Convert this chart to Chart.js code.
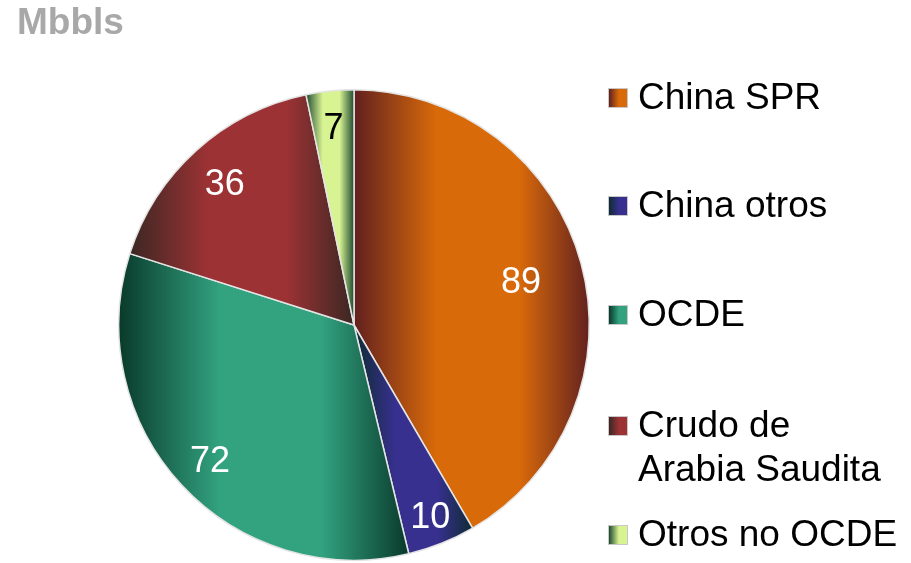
<!DOCTYPE html>
<html>
<head>
<meta charset="utf-8">
<script src="https://cdn.jsdelivr.net/npm/chart.js@4.4.1/dist/chart.umd.min.js"></script>
<style>
  body { margin: 0; background: #fff; }
  #wrap { position: relative; width: 911px; height: 563px; overflow: hidden; }
  #myChart { position: absolute; left: 0; top: 0; }
  .title { position: absolute; left: 17px; top: 3px; font: bold 37px/37px "Liberation Sans", Arial, sans-serif; color: #a8a8a8; }
  .leg-box { position: absolute; left: 608px; width: 20px; height: 20px; border: 1px solid #c8c8c8; box-sizing: border-box; }
  .leg-text { position: absolute; left: 638px; font: 37px/44px "Liberation Sans", Arial, sans-serif; color: #000; white-space: nowrap; }
</style>
</head>
<body>
<div id="wrap">
  <canvas id="myChart" width="911" height="563"></canvas>
  <div class="title" id="title"></div>
</div>
<script>
var unitLabel = 'Mbbls';
var labels = ['China SPR', 'China otros', 'OCDE', ['Crudo de', 'Arabia Saudita'], 'Otros no OCDE'];
var values = [89, 10, 72, 36, 7];

// gradient colours: dark edge / bright middle
var darkColors = ['#61201f', '#0f2b32', '#09392a', '#3a2723', '#1d4a30'];
var brightColors = ['#d96a0a', '#37308f', '#32a27f', '#9c3234', '#d8f392'];
var valueColors = ['#ffffff', '#ffffff', '#ffffff', '#ffffff', '#000000'];
var labelRadius = [0.735, 0.87, 0.835, 0.82, 0.85];
var legendBaselines = [110, 218, 327, 438, 547];

document.getElementById('title').textContent = unitLabel;

var ctx = document.getElementById('myChart').getContext('2d');

function sliceGradient (context) {
    var i = context.dataIndex;
    var area = context.chart.chartArea;
    if (!area || i === undefined) return brightColors[i] || '#888';
    var data = context.dataset.data;
    var total = data.reduce(function (a, b) { return a + b; }, 0);
    var before = 0;
    for (var k = 0; k < i; k++) before += data[k];
    var cx = (area.left + area.right) / 2;
    var r = Math.min(area.width, area.height) / 2;
    var a0 = -Math.PI / 2 + before / total * 2 * Math.PI;
    var a1 = a0 + data[i] / total * 2 * Math.PI;
    var xs = [cx, cx + r * Math.cos(a0), cx + r * Math.cos(a1)];
    [0, Math.PI].forEach(function (t) {
        if (t >= a0 && t <= a1) xs.push(cx + r * Math.cos(t));
    });
    var x0 = Math.min.apply(null, xs), x1 = Math.max.apply(null, xs);
    var g = context.chart.ctx.createLinearGradient(x0, 0, x1, 0);
    g.addColorStop(0, darkColors[i]);
    g.addColorStop(0.35, brightColors[i]);
    g.addColorStop(0.7, brightColors[i]);
    g.addColorStop(1, darkColors[i]);
    return g;
}

// values written inside the slices
var sliceValues = {
    id: 'sliceValues',
    afterDatasetsDraw: function (chart) {
        var c = chart.ctx;
        var arcs = chart.getDatasetMeta(0).data;
        c.save();
        c.font = '36px "Liberation Sans", Arial, sans-serif';
        c.textAlign = 'center';
        c.textBaseline = 'alphabetic';
        arcs.forEach(function (arc, i) {
            var mid = (arc.startAngle + arc.endAngle) / 2;
            var rr = arc.outerRadius * labelRadius[i];
            var x = arc.x + rr * Math.cos(mid);
            var y = arc.y + rr * Math.sin(mid);
            c.fillStyle = valueColors[i];
            c.fillText(String(values[i]), x, y + 13);
        });
        c.restore();
    }
};

var chart = new Chart(ctx, {
    type: 'pie',
    data: {
        labels: labels,
        datasets: [{
            data: values,
            backgroundColor: sliceGradient,
            borderColor: '#e4e4e4',
            borderWidth: 1.5
        }]
    },
    options: {
        responsive: false,
        animation: false,
        events: [],
        layout: {
            padding: { left: 118, right: 321, top: 89, bottom: 2 }
        },
        plugins: {
            legend: { display: false },
            tooltip: { enabled: false }
        }
    },
    plugins: [sliceValues]
});

// legend on the right
var wrap = document.getElementById('wrap');
labels.forEach(function (lab, i) {
    var box = document.createElement('div');
    box.className = 'leg-box';
    box.style.top = (legendBaselines[i] - 22) + 'px';
    box.style.background = 'linear-gradient(to right, ' + darkColors[i] + ', ' + brightColors[i] + ' 55%)';
    wrap.appendChild(box);

    var txt = document.createElement('div');
    txt.className = 'leg-text';
    txt.style.top = (legendBaselines[i] - 34.8) + 'px';
    var lines = Array.isArray(lab) ? lab : [lab];
    lines.forEach(function (line, j) {
        if (j > 0) txt.appendChild(document.createElement('br'));
        txt.appendChild(document.createTextNode(line));
    });
    wrap.appendChild(txt);
});
</script>
</body>
</html>
